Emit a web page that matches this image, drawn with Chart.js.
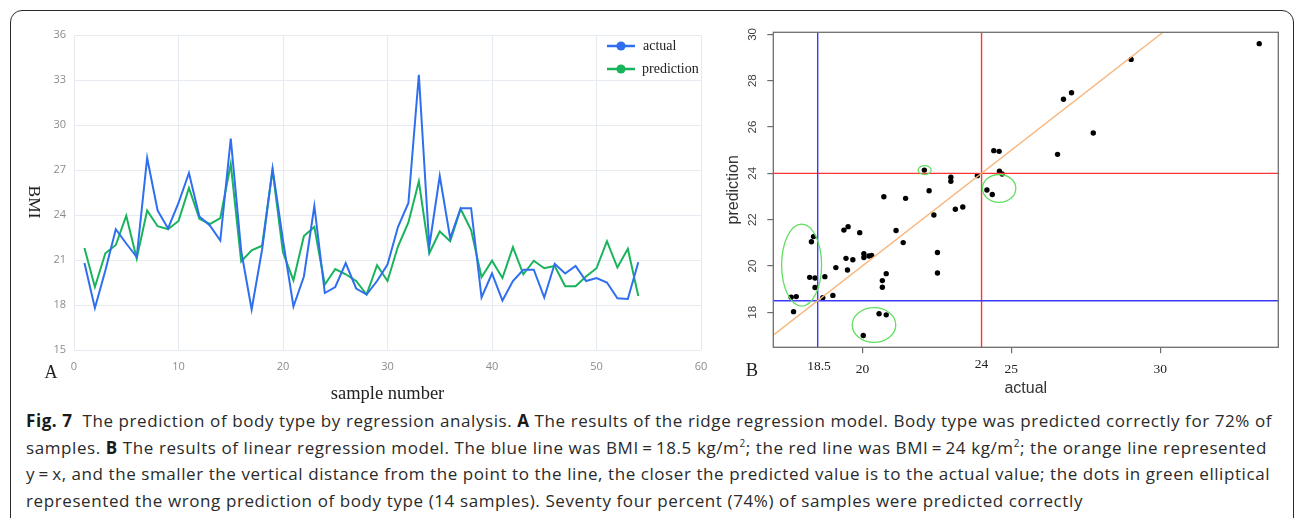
<!DOCTYPE html>
<html>
<head>
<meta charset="utf-8">
<script src="https://cdn.jsdelivr.net/npm/chart.js@4.4.1/dist/chart.umd.min.js"></script>
<style>
  html, body { margin: 0; padding: 0; background: #fff; width: 1295px; height: 518px; overflow: hidden; }
  #frame { position: absolute; left: 10px; top: 10px; width: 1284px; height: 700px;
           border: 1.5px solid #2a2a2a; border-radius: 12px; box-sizing: border-box; }
  canvas { position: absolute; }
  .lbl { position: absolute; transform: translate(-50%, -50%); white-space: nowrap; color: #222; }
  .serif { font-family: "Liberation Serif", "DejaVu Serif", serif; }
  #bmi { writing-mode: vertical-rl; font-size: 17.5px; }
  .legend { position: absolute; font-family: "Liberation Serif", serif; font-size: 14px; color: #222; line-height: 16px; }
  .legend svg { position: absolute; }
  #caption { position: absolute; left: 26px; top: 408.3px; font-family: "Open Sans", Roboto, sans-serif;
             font-size: 17px; line-height: 26.5px; color: #2a2a2a; }
  #caption .ln { white-space: nowrap; }
  #caption .ln span { display: inline-block; }
  #caption b { font-weight: 700; color: #1a1a1a; }
  #caption sup { font-size: 10px; line-height: 0; }
</style>
</head>
<body>
<div id="frame"></div>

<canvas id="ridge" width="700" height="380" style="left:12px; top:25px; width:700px; height:380px"></canvas>
<canvas id="linear" width="570" height="380" style="left:720px; top:20px; width:570px; height:380px"></canvas>

<div class="lbl serif" id="bmi" style="left:34.5px; top:202px">BMI</div>
<div class="lbl serif" style="left:51px; top:371.5px; font-size:18px">A</div>
<div class="lbl serif" style="left:752px; top:369.5px; font-size:18.5px">B</div>
<div class="lbl serif" style="left:819px; top:365.5px; font-size:13.5px">18.5</div>
<div class="lbl serif" style="left:981.5px; top:363.8px; font-size:13.5px">24</div>

<div class="legend" style="left:607px; top:40.7px">
  <svg width="28" height="10" style="left:0; top:0"><line x1="0" y1="5" x2="28" y2="5" stroke="#2f6fef" stroke-width="2.5"/><circle cx="14" cy="5" r="4.6" fill="#2f6fef"/></svg>
  <div style="position:absolute; left:36px; top:-3px">actual</div>
</div>
<div class="legend" style="left:607px; top:64.3px">
  <svg width="28" height="10" style="left:0; top:0"><line x1="0" y1="5" x2="28" y2="5" stroke="#19b35c" stroke-width="2.5"/><circle cx="14" cy="5" r="4.6" fill="#19b35c"/></svg>
  <div style="position:absolute; left:35px; top:-3px">prediction</div>
</div>

<div id="caption">
  <div class="ln"><span data-w="1246"><b>Fig. 7</b>&nbsp; The prediction of body type by regression analysis. <b>A</b> The results of the ridge regression model. Body type was predicted correctly for 72% of</span></div>
  <div class="ln"><span data-w="1241">samples. <b>B</b> The results of linear regression model. The blue line was BMI&#8201;=&#8201;18.5 kg/m<sup>2</sup>; the red line was BMI&#8201;=&#8201;24 kg/m<sup>2</sup>; the orange line represented</span></div>
  <div class="ln"><span data-w="1244">y&#8201;=&#8201;x, and the smaller the vertical distance from the point to the line, the closer the predicted value is to the actual value; the dots in green elliptical</span></div>
  <div class="ln"><span data-w="1057">represented the wrong prediction of body type (14 samples). Seventy four percent (74%) of samples were predicted correctly</span></div>
</div>

<script>
// ---- panel A: ridge regression, actual vs prediction per sample ----
const sampleNumber = [1, 2, 3, 4, 5, 6, 7, 8, 9, 10, 11, 12, 13, 14, 15, 16, 17, 18, 19, 20,
  21, 22, 23, 24, 25, 26, 27, 28, 29, 30, 31, 32, 33, 34, 35, 36, 37, 38, 39, 40,
  41, 42, 43, 44, 45, 46, 47, 48, 49, 50, 51, 52, 53, 54];
const actualBMI = [20.8, 17.8, 20.3, 23.05, 22.1, 21.2, 27.8, 24.3, 23.1, 24.8,
  26.8, 23.9, 23.3, 22.3, 29.1, 21.6, 17.7, 21.7, 27.1, 22.3,
  17.9, 19.9, 24.6, 18.8, 19.2, 20.8, 19.1, 18.7, 19.6, 20.7,
  23.2, 24.8, 33.35, 21.9, 26.6, 22.45, 24.45, 24.45, 18.5, 20.1,
  18.3, 19.6, 20.35, 20.35, 18.5, 20.75, 20.1, 20.6, 19.6, 19.8,
  19.5, 18.45, 18.4, 20.85];
const predictedBMI = [21.8, 19.2, 21.45, 22.0, 23.95, 21.1, 24.3, 23.25, 23.05, 23.6,
  25.8, 23.75, 23.4, 23.8, 27.4, 20.9, 21.65, 21.95, 27.0, 21.5,
  19.65, 22.6, 23.2, 19.35, 20.4, 20.05, 19.6, 18.7, 20.65, 19.6,
  21.9, 23.5, 26.25, 21.45, 22.9, 22.25, 24.4, 23.0, 19.85, 20.95,
  19.8, 21.85, 20.05, 20.95, 20.45, 20.6, 19.25, 19.25, 19.9, 20.45,
  22.25, 20.5, 21.75, 18.6];

// ---- panel B: linear regression scatter ----
const scatterActual = [17.61, 17.78, 17.69, 18.23, 18.41, 18.41, 18.29, 18.36, 18.67, 18.74,
  19.01, 19.11, 19.38, 19.52, 19.45, 19.5, 19.68, 19.91, 20.05, 20.05,
  20.22, 20.31, 20.72, 20.67, 20.67, 20.8, 20.56, 20.8, 20.03, 21.13,
  21.37, 21.45, 22.08, 22.24, 22.4, 22.52, 22.52, 22.97, 22.97, 23.12,
  23.37, 23.86, 24.18, 24.36, 24.41, 24.59, 24.6, 24.69, 26.55, 26.75,
  27.02, 27.75, 29.02, 33.32];
const scatterPredicted = [18.65, 18.68, 18.03, 19.51, 19.48, 19.07, 21.05, 21.27, 18.63, 19.54,
  18.73, 19.93, 21.55, 21.7, 20.33, 19.83, 20.27, 21.44, 20.53, 20.37,
  20.43, 20.46, 22.99, 19.37, 19.08, 19.67, 17.94, 17.89, 17.0, 21.53,
  21.01, 22.92, 24.14, 23.25, 22.2, 20.58, 19.7, 23.83, 23.66, 22.45,
  22.55, 23.9, 23.28, 23.09, 24.98, 24.95, 24.09, 23.97, 24.82, 27.2,
  27.48, 25.74, 28.92, 29.6];
const underweightBMI = 18.5;   // blue lines
const overweightBMI = 24;      // red lines
const xLimits = [17.01, 33.96];
const yLimits = [16.49, 30.09];

// green ellipses around the wrongly classified points (data units)
const wrongCenterX = [17.96, 22.09, 24.59, 20.39];
const wrongCenterY = [20.04, 24.14, 23.35, 17.45];
const wrongRadiusX = [0.67, 0.22, 0.56, 0.73];
const wrongRadiusY = [1.77, 0.19, 0.6, 0.75];

const serif = "'Liberation Serif', 'DejaVu Serif', serif";
const sans = "'Liberation Sans', Arial, sans-serif";

// fixed axis size, and no extra room asked for by the end labels
const fixSize = (size) => (scale) => {
  if (scale.isHorizontal()) scale.height = size;
  else scale.width = size;
  scale.paddingLeft = scale.paddingRight = scale.paddingTop = scale.paddingBottom = 0;
};

// line chart of panel A
new Chart(document.getElementById("ridge"), {
  type: "line",
  data: {
    datasets: [
      {
        label: "actual",
        data: sampleNumber.map((n, i) => ({ x: n, y: actualBMI[i] })),
        borderColor: "#2f6fef",
        borderWidth: 2,
      },
      {
        label: "prediction",
        data: sampleNumber.map((n, i) => ({ x: n, y: predictedBMI[i] })),
        borderColor: "#19b35c",
        borderWidth: 2,
      },
    ],
  },
  options: {
    responsive: false,
    animation: false,
    events: [],
    layout: { padding: { top: 10, right: 11, left: 0, bottom: 0 } },
    elements: { point: { radius: 0 }, line: { tension: 0 } },
    plugins: { legend: { display: false }, tooltip: { enabled: false } },
    scales: {
      x: {
        type: "linear",
        min: 0,
        max: 60,
        ticks: { stepSize: 10, color: "#8c8c8c", padding: 10, font: { family: "'Open Sans', sans-serif", size: 11 } },
        grid: { color: "#e6ebf2", drawTicks: false },
        border: { display: false },
        title: { display: true, text: "sample number", color: "#222", font: { family: serif, size: 18.5 }, padding: { top: 0, bottom: 0 } },
        afterFit: fixSize(55),
      },
      y: {
        min: 15,
        max: 36,
        ticks: { stepSize: 3, color: "#8c8c8c", padding: 8, font: { family: "'Open Sans', sans-serif", size: 11 } },
        grid: { color: "#e6ebf2", drawTicks: false },
        border: { display: false },
        afterFit: fixSize(62),
      },
    },
  },
});

// box round the plot region of panel B
const boxFrame = {
  id: "boxFrame",
  afterDatasetsDraw(chart) {
    const { ctx, chartArea: a } = chart;
    ctx.save();
    ctx.strokeStyle = "#6e6e6e";
    ctx.lineWidth = 1.3;
    ctx.strokeRect(a.left, a.top, a.right - a.left, a.bottom - a.top);
    ctx.restore();
  },
};

// the hand drawn ellipses, placed through the scales
const wrongEllipses = {
  id: "wrongEllipses",
  afterDatasetsDraw(chart) {
    const { ctx, scales: { x, y } } = chart;
    ctx.save();
    ctx.strokeStyle = "#62de62";
    ctx.lineWidth = 1.3;
    wrongCenterX.forEach((cx, i) => {
      const px = x.getPixelForValue(cx);
      const py = y.getPixelForValue(wrongCenterY[i]);
      const rx = Math.abs(x.getPixelForValue(cx + wrongRadiusX[i]) - px);
      const ry = Math.abs(y.getPixelForValue(wrongCenterY[i] + wrongRadiusY[i]) - py);
      ctx.beginPath();
      ctx.ellipse(px, py, rx, ry, 0, 0, Math.PI * 2);
      ctx.stroke();
    });
    ctx.restore();
  },
};

const refLine = (points, color) => ({
  type: "line",
  data: points,
  borderColor: color,
  borderWidth: 1.4,
  pointRadius: 0,
  fill: false,
  order: 0,
});

new Chart(document.getElementById("linear"), {
  type: "scatter",
  data: {
    datasets: [
      {
        label: "samples",
        data: scatterActual.map((v, i) => ({ x: v, y: scatterPredicted[i] })),
        backgroundColor: "#000",
        borderWidth: 0,
        pointRadius: 2.7,
        order: 1,
      },
      refLine([{ x: xLimits[0], y: xLimits[0] }, { x: yLimits[1], y: yLimits[1] }], "#f7b57a"),
      refLine([{ x: underweightBMI, y: yLimits[0] }, { x: underweightBMI, y: yLimits[1] }], "#3a3aff"),
      refLine([{ x: xLimits[0], y: underweightBMI }, { x: xLimits[1], y: underweightBMI }], "#3a3aff"),
      refLine([{ x: overweightBMI, y: yLimits[0] }, { x: overweightBMI, y: yLimits[1] }], "#ff3535"),
      refLine([{ x: xLimits[0], y: overweightBMI }, { x: xLimits[1], y: overweightBMI }], "#ff3535"),
    ],
  },
  options: {
    responsive: false,
    animation: false,
    events: [],
    layout: { padding: { top: 12.3, right: 11.7, left: 0, bottom: 0 } },
    plugins: { legend: { display: false }, tooltip: { enabled: false } },
    scales: {
      x: {
        type: "linear",
        min: xLimits[0],
        max: xLimits[1],
        ticks: { stepSize: 5, includeBounds: false, color: "#222", padding: 7.6, font: { family: serif, size: 13.5 } },
        grid: { drawOnChartArea: false, drawTicks: true, tickLength: 6, color: "#6e6e6e", lineWidth: 1.2 },
        border: { display: false },
        title: { display: true, text: "actual", color: "#333", font: { family: sans, size: 16 }, padding: { top: 0, bottom: 1.4 } },
        afterFit: fixSize(52.7),
      },
      y: {
        type: "linear",
        min: yLimits[0],
        max: yLimits[1],
        ticks: { stepSize: 2, includeBounds: false, color: "#444", padding: 8, minRotation: 90, maxRotation: 90,
                 crossAlign: "center", font: { family: sans, size: 11.5 } },
        grid: { drawOnChartArea: false, drawTicks: true, tickLength: 6, color: "#6e6e6e", lineWidth: 1.2 },
        border: { display: false },
        title: { display: true, text: "prediction", color: "#333", font: { family: sans, size: 16 }, padding: { top: 4.4, bottom: 0 } },
        afterFit: fixSize(53.3),
      },
    },
  },
  plugins: [boxFrame, wrongEllipses],
});

// stretch each caption line to the width it has in the figure
document.querySelectorAll("#caption .ln span").forEach((el) => {
  const target = Number(el.dataset.w);
  const natural = el.getBoundingClientRect().width;
  const n = el.textContent.length;
  el.style.letterSpacing = ((target - natural) / n).toFixed(3) + "px";
});
</script>
</body>
</html>
